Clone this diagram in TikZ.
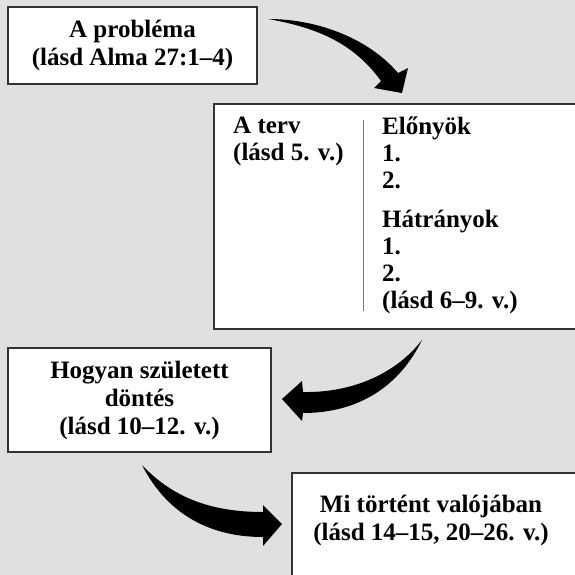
\documentclass[tikz,border=0pt]{standalone}
\usepackage{fontspec}
\setmainfont{Liberation Serif}
\usetikzlibrary{positioning, calc}
\definecolor{PageGray}{HTML}{E0E0E0}
\definecolor{FrameGray}{HTML}{333333}
\definecolor{RuleGray}{HTML}{7A7A7A}

\begin{document}
\begin{tikzpicture}[x=1pt, y=-1pt,
    box/.style={draw=FrameGray, line width=1.6pt, fill=white, inner sep=0pt, align=center},
    boxtext/.style={font=\fontsize{25}{28}\selectfont\bfseries, inner sep=0pt},
    listtext/.style={font=\fontsize{25}{27}\selectfont\bfseries, inner sep=0pt, align=left},
    bigarrow/.style={fill=black}]
                % Page background
                \useasboundingbox (0,0) rectangle (575,575);
                \clip (0,0) rectangle (575,575);
                \fill[PageGray] (0,0) rectangle (575,575);

                % The problem
                \node[box, boxtext, minimum width=249pt, minimum height=77pt] (problem) at (132.5,45.5) {A probléma\\(lásd Alma 27:1–4)};

                % The plan, with its pros and cons
                \node[box, anchor=north west, minimum width=380pt, minimum height=225pt] (plan) at (213,103) {};
                \node[listtext, anchor=north west] (plantitle) at (233,117) {A terv\\(lásd 5. v.)};
                \node[listtext, anchor=north west] (planlist) at (382,117) {Előnyök\\1.\\2.\\[12pt]Hátrányok\\1.\\2.\\(lásd 6–9. v.)};
                \draw[RuleGray, line width=1pt] (363,120) -- (363,311);

                % How the decision was made
                \node[box, boxtext, minimum width=263pt, minimum height=104pt] (decision) at (139.5,400) {Hogyan született\\döntés\\(lásd 10–12. v.)};

                % What really happened
                \node[box, anchor=north west, minimum width=300pt, minimum height=120pt] (outcome) at (291,472) {};
                \node[boxtext, align=center] (outcometext) at (431,520) {Mi történt valójában\\(lásd 14–15, 20–26. v.)};

                % Curved arrows
                \fill[bigarrow] (268,19) .. controls (320,19) and (370,40) .. (398,73) -- (408,68) -- (402,93) -- (374,88) -- (381,81) .. controls (355,45) and (320,28) .. (268,19) -- cycle;
                \fill[bigarrow] (422,340) .. controls (395,375) and (350,393) .. (303,392) -- (302,381) -- (282,399) -- (302,421) -- (303,413) .. controls (360,413) and (400,385) .. (422,340) -- cycle;
                \fill[bigarrow] (142,465) .. controls (175,500) and (215,512) .. (263,512) -- (263,505) -- (282,524) -- (263,546) -- (263,537) .. controls (205,537) and (165,510) .. (142,465) -- cycle;
            \end{tikzpicture}
\end{document}
